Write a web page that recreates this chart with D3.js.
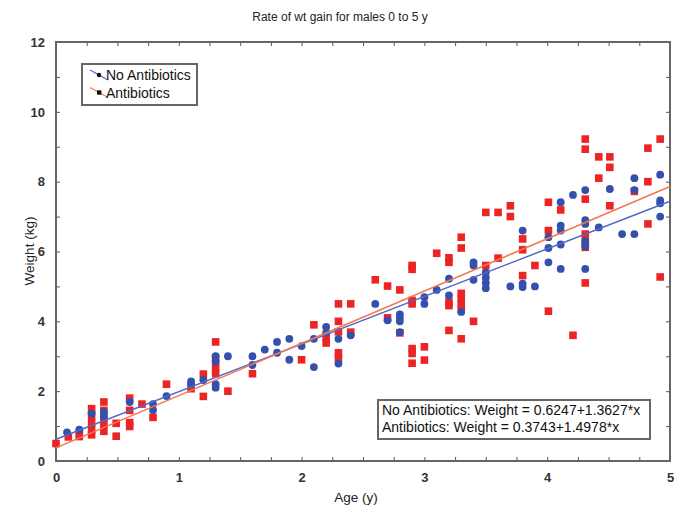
<!DOCTYPE html>
<html>
<head>
<meta charset="utf-8">
<script src="https://cdn.jsdelivr.net/npm/d3@7"></script>
<style>
  body { margin: 0; background: #fff; }
  svg { display: block; font-family: "Liberation Sans", Arial, sans-serif; }
</style>
</head>
<body>
<svg></svg>
<script>
// [age (y), weight (kg)]
var noAntibiotics = [
  [0.09,0.82],[0.19,0.9],[0.29,1.36],[0.39,1.41],[0.39,1.27],[0.6,1.69],[0.79,1.63],[0.79,1.46],
  [0.9,1.86],[1.1,2.28],[1.1,2.2],[1.2,2.32],[1.3,3.0],[1.3,2.85],[1.3,2.2],[1.3,2.1],[1.4,3.0],
  [1.6,3.0],[1.6,2.75],[1.7,3.19],[1.8,3.41],[1.8,3.1],[1.9,3.5],[1.9,2.9],[2.0,3.29],[2.1,3.5],
  [2.1,2.69],[2.2,3.84],[2.2,3.67],[2.3,3.5],[2.3,2.79],[2.4,3.6],[2.6,4.5],[2.7,4.03],[2.8,4.2],
  [2.8,4.1],[2.8,4.0],[2.8,3.69],[3.0,4.69],[3.0,4.5],[3.1,4.9],[3.2,5.22],[3.2,4.74],[3.3,4.27],
  [3.4,5.69],[3.4,5.6],[3.4,5.19],[3.5,5.4],[3.5,5.25],[3.5,5.1],[3.5,4.95],[3.7,5.0],[3.8,6.6],
  [3.8,5.08],[3.8,4.98],[3.9,5.0],[4.01,6.41],[4.01,6.1],[4.01,5.69],[4.11,7.41],[4.11,6.74],
  [4.11,6.6],[4.11,6.2],[4.11,5.5],[4.21,7.62],[4.31,7.76],[4.31,6.9],[4.31,6.79],[4.31,6.3],
  [4.31,6.15],[4.31,5.5],[4.42,6.69],[4.51,7.79],[4.61,6.5],[4.71,6.5],[4.71,8.1],[4.71,7.76],
  [4.92,8.2],[4.92,7.46],[4.92,7.38],[4.92,7.0]
];
var antibiotics = [
  [0.0,0.5],[0.1,0.69],[0.19,0.8],[0.19,0.7],[0.29,1.5],[0.29,1.3],[0.29,1.1],[0.29,0.9],[0.29,0.75],
  [0.39,1.69],[0.39,1.45],[0.39,1.25],[0.39,1.05],[0.39,0.85],[0.49,1.08],[0.49,0.71],[0.6,1.8],
  [0.6,1.45],[0.6,1.1],[0.6,0.99],[0.7,1.63],[0.79,1.25],[0.9,2.2],[1.1,2.07],[1.2,2.49],[1.2,1.85],
  [1.3,3.41],[1.3,2.94],[1.3,2.7],[1.3,2.5],[1.4,2.0],[1.6,2.5],[2.0,2.9],[2.1,3.9],[2.2,3.55],
  [2.2,3.38],[2.3,4.5],[2.3,4.0],[2.3,3.7],[2.3,3.1],[2.3,2.95],[2.4,4.5],[2.4,3.69],[2.6,5.19],
  [2.7,5.01],[2.7,4.1],[2.8,4.9],[2.8,3.67],[2.9,5.6],[2.9,5.49],[2.9,4.6],[2.9,4.5],[2.9,3.22],
  [2.9,3.08],[2.9,2.8],[3.0,3.27],[3.0,2.89],[3.1,5.95],[3.2,5.82],[3.2,5.69],[3.2,4.55],[3.2,4.45],
  [3.2,3.74],[3.3,6.41],[3.3,6.1],[3.3,4.8],[3.3,4.65],[3.3,4.5],[3.3,4.35],[3.3,3.5],[3.4,4.0],
  [3.5,5.6],[3.5,7.12],[3.6,7.12],[3.6,5.81],[3.7,7.31],[3.7,7.0],[3.8,6.36],[3.8,6.05],[3.8,5.31],
  [3.9,5.6],[4.01,7.41],[4.01,6.6],[4.01,4.29],[4.11,7.19],[4.21,3.6],[4.31,9.22],[4.31,8.93],
  [4.31,7.5],[4.31,6.5],[4.31,6.3],[4.31,6.12],[4.31,5.1],[4.42,8.71],[4.42,8.1],[4.51,8.71],
  [4.51,8.41],[4.51,7.31],[4.71,7.72],[4.82,8.96],[4.82,8.0],[4.82,6.79],[4.92,9.22],[4.92,5.27]
];
// regression: intercept, slope
var fitNoAb = [0.6247, 1.3627],
    fitAb = [0.3743, 1.4978];
var seriesNames = ["No Antibiotics", "Antibiotics"];
var equations = ["No Antibiotics: Weight = 0.6247+1.3627*x", "Antibiotics: Weight = 0.3743+1.4978*x"];
var xMajor = [0, 1, 2, 3, 4, 5],
    yMajor = [0, 2, 4, 6, 8, 10, 12];

var width = 679, height = 511,
    m = { left: 56, right: 670, top: 42, bottom: 461 },
    blue = "#3450ac", red = "#ec2424",
    blueLine = "#5468c8", redLine = "#f2784e";

var svg = d3.select("svg").attr("width", width).attr("height", height);

var x = d3.scaleLinear().domain([0, 5]).range([m.left, m.right]),
    y = d3.scaleLinear().domain([0, 12]).range([m.bottom, m.top]);

// title and axis labels
svg.append("text").attr("x", 340).attr("y", 21).attr("text-anchor", "middle")
  .attr("font-size", 12).attr("fill", "#222").text("Rate of wt gain for males 0 to 5 y");
svg.append("text").attr("x", 356).attr("y", 502).attr("text-anchor", "middle")
  .attr("font-size", 13.5).attr("fill", "#222").text("Age (y)");
svg.append("text").attr("transform", "translate(34,251) rotate(-90)").attr("text-anchor", "middle")
  .attr("font-size", 13.5).attr("fill", "#222").text("Weight (kg)");

// axes with inward ticks on all four sides
var xMinor = d3.range(0, 5.001, 0.25), yMinor = d3.range(0, 12.001, 1);
function styleAxis(g) {
  g.select(".domain").remove();
  g.selectAll(".tick line").attr("stroke", "#555");
  g.selectAll(".tick text").attr("font-size", 13).attr("font-weight", "bold").attr("fill", "#333")
    .attr("font-family", "Liberation Sans, Arial, sans-serif");
}
svg.append("g").attr("transform", `translate(0,${m.bottom})`)
  .call(d3.axisBottom(x).tickValues(xMinor).tickSize(-4).tickPadding(12)
    .tickFormat(function(d) { return xMajor.indexOf(d) >= 0 ? d : ""; }))
  .call(styleAxis);
svg.append("g").attr("transform", `translate(0,${m.top})`)
  .call(d3.axisTop(x).tickValues(xMinor).tickSize(-4).tickFormat(""))
  .call(styleAxis);
svg.append("g").attr("transform", `translate(${m.left},0)`)
  .call(d3.axisLeft(y).tickValues(yMinor).tickSize(-4).tickPadding(11)
    .tickFormat(function(d) { return yMajor.indexOf(d) >= 0 ? d : ""; }))
  .call(styleAxis);
svg.append("g").attr("transform", `translate(${m.right},0)`)
  .call(d3.axisRight(y).tickValues(yMinor).tickSize(-4).tickFormat(""))
  .call(styleAxis);

// plot frame
svg.append("rect").attr("x", m.left).attr("y", m.top)
  .attr("width", m.right - m.left).attr("height", m.bottom - m.top)
  .attr("fill", "none").attr("stroke", "#666").attr("stroke-width", 2);

var plot = svg.append("g");

// points
plot.selectAll("rect.ab").data(antibiotics).enter().append("rect")
  .attr("class", "ab")
  .attr("x", function(d) { return x(d[0]) - 3.8; })
  .attr("y", function(d) { return y(d[1]) - 3.8; })
  .attr("width", 7.6).attr("height", 7.6)
  .attr("fill", red);

plot.selectAll("circle.noab").data(noAntibiotics).enter().append("circle")
  .attr("class", "noab")
  .attr("cx", function(d) { return x(d[0]); })
  .attr("cy", function(d) { return y(d[1]); })
  .attr("r", 3.9)
  .attr("fill", blue);

// regression lines
var line = d3.line().x(function(d) { return x(d[0]); }).y(function(d) { return y(d[1]); });
[[fitNoAb, blueLine], [fitAb, redLine]].forEach(function(f) {
  plot.append("path")
    .datum([0, 5].map(function(a) { return [a, f[0][0] + f[0][1] * a]; }))
    .attr("d", line).attr("fill", "none")
    .attr("stroke", f[1]).attr("stroke-width", 1.5);
});

// legend
var legend = svg.append("g");
legend.append("rect").attr("x", 82).attr("y", 64).attr("width", 115).attr("height", 41)
  .attr("fill", "#fff").attr("stroke", "#666").attr("stroke-width", 2);
[[blueLine, blue, "circle"], [redLine, red, "square"]].forEach(function(s, i) {
  var cy = 75 + i * 17.5;
  legend.append("line").attr("x1", 90).attr("y1", cy - 5).attr("x2", 108).attr("y2", cy + 5)
    .attr("stroke", s[0]).attr("stroke-width", 1.2);
  if (s[2] === "circle") {
    legend.append("circle").attr("cx", 99).attr("cy", cy).attr("r", 2.2).attr("fill", "#111");
  } else {
    legend.append("rect").attr("x", 97).attr("y", cy - 2.2).attr("width", 4.4).attr("height", 4.4).attr("fill", "#111");
  }
  legend.append("text").attr("x", 106).attr("y", cy + 5).attr("font-size", 14)
    .attr("fill", "#111").text(seriesNames[i]);
});

// equation box
var eq = svg.append("g");
eq.append("rect").attr("x", 378).attr("y", 400).attr("width", 272).attr("height", 39)
  .attr("fill", "#fff").attr("stroke", "#666").attr("stroke-width", 2);
equations.forEach(function(t, i) {
  eq.append("text").attr("x", 382).attr("y", 415 + i * 17).attr("font-size", 14)
    .attr("fill", "#111").text(t);
});
</script>
</body>
</html>
